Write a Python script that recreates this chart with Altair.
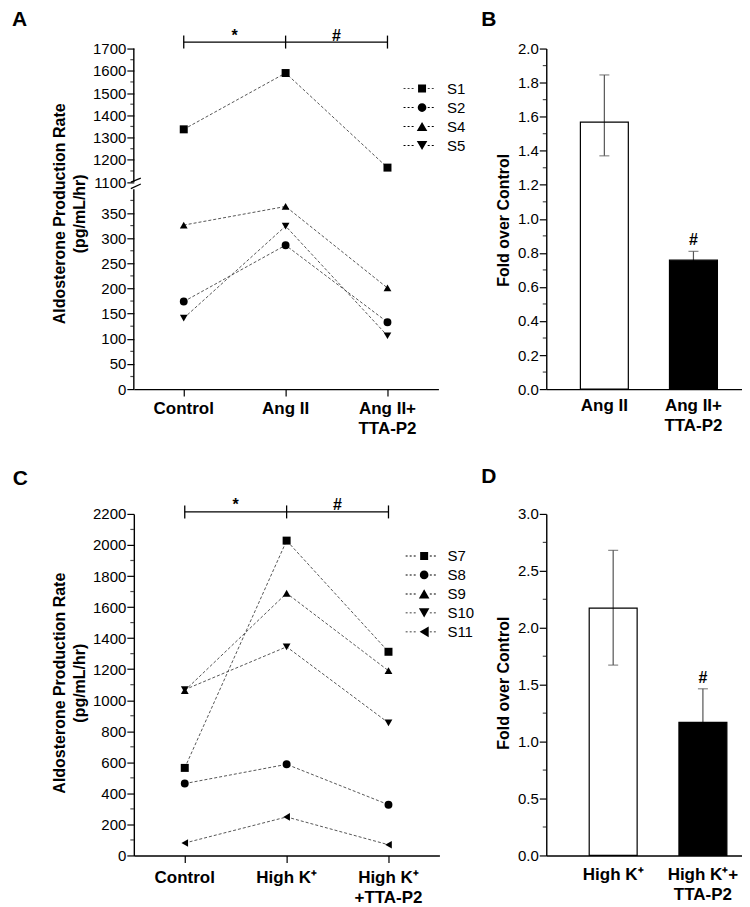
import altair as alt
import pandas as pd

FONT = "Liberation Sans"

# ---------------- data ----------------
# Panel A (Ang II) - broken y axis
cond_A = ["Control", "Ang II", "Ang II+|TTA-P2"]
series_A = ["S1", "S2", "S4", "S5"]
S1 = [1337, 1590, 1165]
S2 = [174, 286, 133]
S4 = [326, 363, 201]
S5 = [141, 324, 106]
ticks_A = [0, 50, 100, 150, 200, 250, 300, 350, 1100, 1200, 1300, 1400, 1500, 1600, 1700]
minor_A = [25, 75, 125, 175, 225, 275, 325, 375, 1150, 1250, 1350, 1450, 1550, 1650]
axis_seg_lo = [0, 1100]     # y-axis segments (start)
axis_seg_hi = [397, 1700]   # y-axis segments (end)

# Panel B (fold over control)
cond_B = ["Ang II", "Ang II+|TTA-P2"]
mean_B = [1.568, 0.757]
hi_B = [1.845, 0.809]
lo_B = [1.370, 0.705]
sig_B = ["", "#"]
ticks_B = [0.0, 0.2, 0.4, 0.6, 0.8, 1.0, 1.2, 1.4, 1.6, 1.8, 2.0]
minor_B = [0.1, 0.3, 0.5, 0.7, 0.9, 1.1, 1.3, 1.5, 1.7, 1.9]

# Panel C (High K+)
cond_C = ["Control", "High K⁺", "High K⁺|+TTA-P2"]
series_C = ["S7", "S8", "S9", "S10", "S11"]
S7 = [564, 2028, 1312]
S8 = [463, 587, 327]
S9 = [1062, 1689, 1190]
S10 = [1068, 1344, 854]
S11 = [80, 248, 69]
ticks_C = [0, 200, 400, 600, 800, 1000, 1200, 1400, 1600, 1800, 2000, 2200]
minor_C = [100, 300, 500, 700, 900, 1100, 1300, 1500, 1700, 1900, 2100]

# Panel D (fold over control)
cond_D = ["High K⁺", "High K⁺+|TTA-P2"]
mean_D = [2.173, 1.169]
hi_D = [2.680, 1.464]
lo_D = [1.672, 0.874]
sig_D = ["", "#"]
ticks_D = [0.0, 0.5, 1.0, 1.5, 2.0, 2.5, 3.0]
minor_D = [0.25, 0.75, 1.25, 1.75, 2.25, 2.75]

# significance brackets (between condition indices)
sig_from = [0, 1]
sig_to = [1, 2]
sig_text = ["*", "#"]
sig_ticks = [0, 1, 2]

# ---------------- styles ----------------
shapes_A = ["square", "circle", "triangle-up", "triangle-down"]
shapes_C = ["square", "circle", "triangle-up", "triangle-down", "triangle-left"]
SIZE = {"square": 64, "circle": 59, "triangle-up": 112, "triangle-down": 112, "triangle-left": 112}
LEG_SIZE = 428  # legend symbol box (unit = sqrt(size)/2 px)
CX = 0.34


def _dashes():
    p = ""
    x = -1.45
    while x < 1.45:
        if x + 0.19 < CX - 0.5 or x > CX + 0.5:
            p += f"M{x:.3f},-0.045h0.19v0.09h-0.19Z"
        x += 0.39
    return p


LEG = {
    "square": _dashes() + f"M{CX-0.386:.3f},-0.386h0.772v0.772h-0.772Z",
    "circle": _dashes() + f"M{CX-0.42:.3f},0a0.42,0.42,0,1,1,0.84,0a0.42,0.42,0,1,1,-0.84,0Z",
    "triangle-up": _dashes() + f"M{CX:.3f},-0.44L{CX+0.51:.3f},0.44L{CX-0.51:.3f},0.44Z",
    "triangle-down": _dashes() + f"M{CX:.3f},0.44L{CX-0.51:.3f},-0.44L{CX+0.51:.3f},-0.44Z",
    "triangle-left": _dashes() + f"M{CX-0.44:.3f},0L{CX+0.44:.3f},0.51L{CX+0.44:.3f},-0.51Z",
}


def long_df(names, arrays):
    rows = []
    for s, arr in zip(names, arrays):
        for i, v in enumerate(arr):
            rows.append({"series": s, "idx": i, "value": v})
    return pd.DataFrame(rows)


def yaxis(values, fmt, **kw):
    return alt.Axis(values=values, format=fmt, tickSize=7, labelPadding=1, titleAngle=270,
                    titleAlign="center", titleBaseline="bottom", **kw)


def xaxis_plain(n, ticks=True):
    return alt.Axis(values=list(range(n)), labels=False, ticks=ticks, tickSize=7 if ticks else 0,
                    title=None)


def cat_labels(cats, xscale, xaxis, ypix):
    df = pd.DataFrame({"idx": list(range(len(cats))), "cat": cats})
    return alt.Chart(df).mark_text(
        font=FONT, fontSize=17, fontWeight="bold", baseline="top", align="center",
        lineBreak="|", lineHeight=20, color="black"
    ).encode(x=alt.X("idx:Q", scale=xscale, axis=xaxis), y=alt.value(ypix), text="cat:N")


def minor_ticks(values, yscale, yax):
    return alt.Chart(pd.DataFrame({"v": values})).mark_tick(
        orient="horizontal", size=3.5, thickness=1.2, color="black"
    ).encode(y=alt.Y("v:Q", scale=yscale, axis=yax), x=alt.value(-1.75))


def panel_label(letter, dx, dy):
    return alt.Chart(pd.DataFrame({"lab": [letter]})).mark_text(
        font=FONT, fontSize=21, fontWeight="bold", align="center", baseline="middle", color="black"
    ).encode(x=alt.value(dx), y=alt.value(dy), text="lab:N")


def sig_layers(xscale, xax, ybar, yt0, yt1, ytext):
    d = pd.DataFrame({"x0": sig_from, "x1": sig_to, "lab": sig_text,
                      "mid": [(a + b) / 2 for a, b in zip(sig_from, sig_to)]})
    t = pd.DataFrame({"xt": sig_ticks})
    bar = alt.Chart(d).mark_rule(color="black", strokeWidth=1.3).encode(
        x=alt.X("x0:Q", scale=xscale, axis=xax), x2="x1:Q", y=alt.value(ybar))
    ends = alt.Chart(t).mark_rule(color="black", strokeWidth=1.3).encode(
        x=alt.X("xt:Q", scale=xscale, axis=xax), y=alt.value(yt0), y2=alt.value(yt1))
    txt = alt.Chart(d).mark_text(font=FONT, fontSize=16, fontWeight="bold", baseline="alphabetic",
                                 color="black").encode(
        x=alt.X("mid:Q", scale=xscale, axis=xax), y=alt.value(ytext), text="lab:N")
    return [bar, ends, txt]


def make_legend(lx, ly, off):
    return alt.Legend(orient="none", legendX=lx, legendY=ly, title=None, symbolSize=LEG_SIZE,
                      symbolFillColor="black", symbolStrokeWidth=0,
                      labelFont=FONT, labelFontSize=15, labelColor="black",
                      labelOffset=off, rowPadding=0)


def line_layers(df, names, shapes, xscale, yscale, yax, xax, legend):
    base = alt.Chart(df)
    shape_sc = alt.Scale(domain=names, range=shapes)
    size_sc = alt.Scale(domain=names, range=[SIZE[s] for s in shapes])
    lines = base.mark_line(strokeDash=[3, 2], strokeWidth=0.9, color="#444").encode(
        x=alt.X("idx:Q", scale=xscale, axis=xax),
        y=alt.Y("value:Q", scale=yscale, axis=yax),
        detail="series:N",
    )
    pts = base.mark_point(filled=True, opacity=1, color="black").encode(
        x=alt.X("idx:Q", scale=xscale, axis=xax),
        y=alt.Y("value:Q", scale=yscale, axis=yax),
        shape=alt.Shape("series:N", scale=shape_sc, legend=None),
        size=alt.Size("series:O", scale=size_sc, legend=None),
    )
    leg = base.transform_filter("false").mark_point(filled=True, opacity=1, color="black").encode(
        shape=alt.Shape("series:N", scale=alt.Scale(domain=names, range=[LEG[s] for s in shapes]),
                        legend=legend)
    )
    return [lines, pts, leg]


TITLE_AL = ["Aldosterone Production Rate", "(pg/mL/hr)"]

# ---------------- panel A ----------------
dfA = long_df(series_A, [S1, S2, S4, S5])
xA = alt.Scale(domain=[-0.49, 2.5], nice=False, zero=False)
yA = alt.Scale(domain=[0, 397, 1100, 1700], range=[341, 141, 133.7, 0], nice=False, zero=False)
axA = yaxis(ticks_A, "d", domain=False, title=TITLE_AL, titleX=-66, titleY=165, titleLineHeight=20)
axAx = xaxis_plain(3)
segA = pd.DataFrame({"y0": axis_seg_lo, "y1": axis_seg_hi})

A = alt.layer(
    *line_layers(dfA, series_A, shapes_A, xA, yA, axA, axAx, make_legend(274.6, 29.6, 18)),
    minor_ticks(minor_A, yA, axA),
    alt.Chart(segA).mark_rule(color="black", strokeWidth=1.4).encode(
        x=alt.value(0), y=alt.Y("y0:Q", scale=yA, axis=axA), y2="y1:Q"),
    # axis break marks
    alt.Chart(pd.DataFrame({"b": [0]})).mark_rule(color="black", strokeWidth=1.2).encode(
        x=alt.value(-3), x2=alt.value(7), y=alt.value(133.7), y2=alt.value(129.7)),
    alt.Chart(pd.DataFrame({"b": [0]})).mark_rule(color="black", strokeWidth=1.2).encode(
        x=alt.value(-3), x2=alt.value(7), y=alt.value(140.3), y2=alt.value(135.7)),
    cat_labels(cond_A, xA, axAx, 341 + 12),
    *sig_layers(xA, axAx, -6.5, -13, 0, -8),
    panel_label("A", -114.5, -29),
).resolve_scale(shape="independent").properties(width=305, height=341)


# ---------------- bar panels ----------------
def bar_panel(cats, mean, lo, hi, sig, xdom, ydom, yvals, minors, titleX, titleY, letter, lx, ly,
              lab_y, w, h):
    df = pd.DataFrame({"idx": list(range(len(cats))), "mean": mean, "lo": lo, "hi": hi, "sig": sig,
                       "fillc": ["transparent", "black"]})
    xs = alt.Scale(domain=xdom, nice=False, zero=False)
    ys = alt.Scale(domain=ydom, nice=False, zero=False)
    xax = xaxis_plain(len(cats), ticks=False)
    yax = yaxis(yvals, ".1f", title="Fold over Control", titleX=titleX, titleY=titleY)
    base = alt.Chart(df)
    err = base.mark_rule(color="#555", strokeWidth=1.2).encode(
        x=alt.X("idx:Q", scale=xs, axis=xax), y=alt.Y("lo:Q", scale=ys, axis=yax), y2="hi:Q")
    cap_hi = base.mark_tick(orient="horizontal", size=10, thickness=1.2, color="#555").encode(
        x=alt.X("idx:Q", scale=xs, axis=xax), y=alt.Y("hi:Q", scale=ys, axis=yax))
    cap_lo = base.mark_tick(orient="horizontal", size=10, thickness=1.2, color="#555").encode(
        x=alt.X("idx:Q", scale=xs, axis=xax), y=alt.Y("lo:Q", scale=ys, axis=yax))
    bars = base.mark_bar(size=48, stroke="black", strokeWidth=1.2).encode(
        x=alt.X("idx:Q", scale=xs, axis=xax), y=alt.Y("mean:Q", scale=ys, axis=yax),
        fill=alt.Fill("fillc:N", scale=None))
    txt = base.mark_text(font=FONT, fontSize=16, fontWeight="bold", baseline="bottom", dy=-3,
                         color="black").encode(
        x=alt.X("idx:Q", scale=xs, axis=xax), y=alt.Y("hi:Q", scale=ys, axis=yax), text="sig:N")
    return alt.layer(err, cap_hi, cap_lo, bars, txt, minor_ticks(minors, ys, yax),
                     cat_labels(cats, xs, xax, h + lab_y),
                     panel_label(letter, lx, ly)).properties(width=w, height=h)


B = bar_panel(cond_B, mean_B, lo_B, hi_B, sig_B, [-0.596, 1.489], [0, 2.0], ticks_B, minor_B,
              -34.6, 171.5, "B", -57.5, -29, 9, 196, 341)

D = bar_panel(cond_D, mean_D, lo_D, hi_D, sig_D, [-0.69, 1.380], [0, 3.0], ticks_D, minor_D,
              -34.6, 169, "D", -57.5, -37, 12, 196, 342)

# ---------------- panel C ----------------
dfC = long_df(series_C, [S7, S8, S9, S10, S11])
xC = alt.Scale(domain=[-0.5, 2.5], nice=False, zero=False)
yC = alt.Scale(domain=[0, 2200], nice=False, zero=False)
axC = yaxis(ticks_C, "d", title=TITLE_AL, titleX=-66, titleY=169, titleLineHeight=20)
axCx = xaxis_plain(3)
C = alt.layer(
    *line_layers(dfC, series_C, shapes_C, xC, yC, axC, axCx, make_legend(276.7, 31.6, 16.3)),
    minor_ticks(minor_C, yC, axC),
    cat_labels(cond_C, xC, axCx, 342 + 15),
    *sig_layers(xC, axCx, -2, -8.5, 4.5, -3.5),
    panel_label("C", -113.7, -35),
).resolve_scale(shape="independent").properties(width=306, height=342)

chart = alt.concat(
    A, B, C, D, columns=2, spacing={"row": 125, "column": 107}, bounds="flush"
).resolve_scale(
    shape="independent", size="independent"
).properties(padding={"left": 3, "top": 0, "right": 0, "bottom": 0}
).configure_axis(
    labelFont=FONT, labelFontSize=15, labelColor="black", titleFont=FONT, titleFontSize=16,
    titleFontWeight="bold", titleColor="black", domainColor="black", domainWidth=1.4,
    tickColor="black", tickWidth=1.2, grid=False,
).configure_view(stroke=None)

chart.save("out.html", embed_options={"renderer": "svg", "actions": False})
